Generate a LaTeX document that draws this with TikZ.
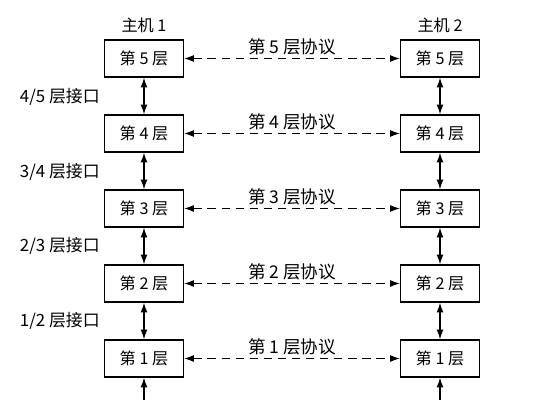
\documentclass[tikz,border=0pt]{standalone}
\usepackage{fontspec}
\newfontfamily\cjk{Noto Sans CJK SC}
\usetikzlibrary{arrows.meta}

\tikzset{
  layerbox/.style={draw, line width=0.9pt, minimum width=1.975cm, minimum height=0.925cm,
    inner sep=0pt, font=\cjk\fontsize{11.5}{13}\selectfont},
  hostlabel/.style={font=\cjk\fontsize{11.5}{13}\selectfont},
  protolabel/.style={font=\cjk\fontsize{12.5}{14}\selectfont, above, inner sep=2pt},
  iflabel/.style={font=\cjk\fontsize{12}{14}\selectfont, anchor=east, inner sep=0pt},
  peer/.style={dashed, dash pattern=on 6pt off 4pt, line width=0.8pt, {Latex[length=7pt,width=5pt]}-{Latex[length=7pt,width=5pt]}},
  stack/.style={line width=0.9pt, {Latex[length=7pt,width=5pt]}-{Latex[length=7pt,width=5pt]}}
}

\begin{document}
\begin{tikzpicture}[x=0.025cm, y=-0.025cm]

  \useasboundingbox (0,0) rectangle (538,400);
  \clip (0,0) rectangle (538,400);

  \node[hostlabel] (host1) at (144,25) {主机 1};
  \node[hostlabel] (host2) at (440,25) {主机 2};

  \node[layerbox] (a5) at (144,58.5) {第 5 层};
  \node[layerbox] (a4) at (144,133.5) {第 4 层};
  \node[layerbox] (a3) at (144,208.5) {第 3 层};
  \node[layerbox] (a2) at (144,283.5) {第 2 层};
  \node[layerbox] (a1) at (144,358.5) {第 1 层};

  \node[layerbox] (b5) at (440,58.5) {第 5 层};
  \node[layerbox] (b4) at (440,133.5) {第 4 层};
  \node[layerbox] (b3) at (440,208.5) {第 3 层};
  \node[layerbox] (b2) at (440,283.5) {第 2 层};
  \node[layerbox] (b1) at (440,358.5) {第 1 层};

  \coordinate (a0) at (144,410);
  \coordinate (b0) at (440,410);

  % layer interfaces
  \draw[stack] (a5) -- (a4);
  \draw[stack] (a4) -- (a3);
  \draw[stack] (a3) -- (a2);
  \draw[stack] (a2) -- (a1);
  \draw[stack] (a1) -- (a0);
  \draw[stack] (b5) -- (b4);
  \draw[stack] (b4) -- (b3);
  \draw[stack] (b3) -- (b2);
  \draw[stack] (b2) -- (b1);
  \draw[stack] (b1) -- (b0);

  \node[iflabel] (if45) at (100,97) {4/5 层接口};
  \node[iflabel] (if34) at (100,172) {3/4 层接口};
  \node[iflabel] (if23) at (100,246) {2/3 层接口};
  \node[iflabel] (if12) at (100,321) {1/2 层接口};

  % peer protocols
  \draw[peer] (a5) -- node[protolabel] {第 5 层协议} (b5);
  \draw[peer] (a4) -- node[protolabel] {第 4 层协议} (b4);
  \draw[peer] (a3) -- node[protolabel] {第 3 层协议} (b3);
  \draw[peer] (a2) -- node[protolabel] {第 2 层协议} (b2);
  \draw[peer] (a1) -- node[protolabel] {第 1 层协议} (b1);

\end{tikzpicture}
\end{document}
